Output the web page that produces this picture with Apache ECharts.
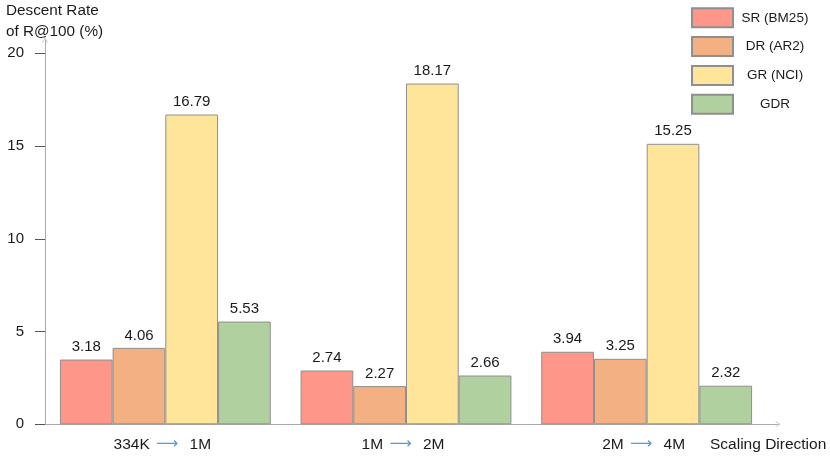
<!DOCTYPE html>
<html>
<head>
<meta charset="utf-8">
<script src="https://cdn.jsdelivr.net/npm/echarts@6/dist/echarts.min.js"></script>
<style>
html,body{margin:0;padding:0;background:#fff;}
#main{width:830px;height:461px;}
</style>
</head>
<body>
<div id="main"></div>
<script>
// Categories (scaling directions)
var categoryFrom = ['334K', '1M', '2M'];
var categoryTo = ['1M', '2M', '4M'];
var seriesNames = ['SR (BM25)', 'DR (AR2)', 'GR (NCI)', 'GDR'];
// Bar heights as drawn in the reference
var srHeights = [3.49, 2.90, 3.91];
var drHeights = [4.12, 2.06, 3.53];
var grHeights = [16.70, 18.37, 15.12];
var gdrHeights = [5.54, 2.63, 2.08];
// Printed value labels
var srLabels = ['3.18', '2.74', '3.94'];
var drLabels = ['4.06', '2.27', '3.25'];
var grLabels = ['16.79', '18.17', '15.25'];
var gdrLabels = ['5.53', '2.66', '2.32'];
// Y axis ticks
var yTicks = [0, 5, 10, 15, 20];

var colors = ['#FE968A', '#F2B083', '#FFE59A', '#B0D09F'];
var FONT = 'Liberation Sans, Arial, Helvetica, sans-serif';

var categories = categoryFrom.map(function (f, i) { return f + '|' + categoryTo[i]; });

function makeSeries(idx, heights, labels) {
  return {
    name: seriesNames[idx],
    type: 'bar',
    xAxisIndex: 0,
    yAxisIndex: 0,
    barGap: '0%',
    barCategoryGap: '12.4%',
    itemStyle: { color: colors[idx], borderColor: '#8f8f8f', borderWidth: 1 },
    label: {
      show: true,
      position: 'top',
      distance: 5,
      fontFamily: FONT,
      fontSize: 15,
      color: '#1a1a1a',
      formatter: function (p) { return labels[p.dataIndex]; }
    },
    data: heights
  };
}

var chart = echarts.init(document.getElementById('main'), null, { renderer: 'canvas' });
var option = {
  animation: false,
  backgroundColor: '#ffffff',
  title: [
    {
      text: 'Descent Rate\nof R@100 (%)',
      left: 1, top: -4.5,
      textStyle: { fontFamily: FONT, fontSize: 15.3, fontWeight: 'normal', color: '#1a1a1a', lineHeight: 21 }
    },
    {
      text: 'Scaling Direction',
      left: 705, top: 432,
      textStyle: { fontFamily: FONT, fontSize: 15.5, fontWeight: 'normal', color: '#1a1a1a' }
    }
  ],
  legend: {
    orient: 'vertical',
    left: 686, top: 2.3,
    itemWidth: 41, itemHeight: 19, itemGap: 7.8,
    icon: 'rect',
    data: seriesNames,
    formatter: function (name) { return '{t|' + name + '}'; },
    textStyle: {
      fontFamily: FONT, fontSize: 13.5, color: '#1a1a1a',
      rich: { t: { width: 74, align: 'center', fontFamily: FONT, fontSize: 13.5, color: '#1a1a1a' } }
    }
  },
  grid: [
    { left: 45, right: 63, top: 53.3, bottom: 36.7 },
    { left: 45, right: 52, top: 40, bottom: 36.7 }
  ],
  xAxis: [
    {
      type: 'category',
      gridIndex: 0,
      data: categories,
      axisLine: { show: false },
      axisTick: { show: false },
      axisLabel: {
        margin: 12,
        padding: [0, 6, 0, 0],
        fontFamily: FONT, fontSize: 15.5, color: '#1a1a1a',
        formatter: function (v) {
          var parts = v.split('|');
          return parts[0] + ' {arr|⟶} ' + parts[1];
        },
        rich: { arr: { color: '#5B9BD5', fontFamily: 'DejaVu Sans', fontSize: 15.5, padding: [0, 7, 0, 2] } }
      }
    },
    {
      type: 'value',
      gridIndex: 1,
      min: 0, max: 1,
      axisLine: {
        show: true, onZero: false,
        lineStyle: { color: '#aaaaaa', width: 1 },
        symbol: ['none', 'path://M0,8 L5,0 L10,8 L9,8 L5,1.6 L1,8 Z'],
        symbolSize: [6, 5]
      },
      axisTick: { show: false },
      axisLabel: { show: false },
      splitLine: { show: false }
    }
  ],
  yAxis: [
    {
      type: 'value',
      gridIndex: 0,
      min: 0, max: 20, interval: 5,
      axisLine: { show: false },
      axisTick: { show: true, inside: false, length: 10, lineStyle: { color: '#555555', width: 1 } },
      axisLabel: {
        margin: 21,
        fontFamily: FONT, fontSize: 15, color: '#1a1a1a',
        formatter: function (v) { return yTicks.indexOf(v) >= 0 ? String(v) : ''; }
      },
      splitLine: { show: false }
    },
    {
      type: 'value',
      gridIndex: 1,
      min: 0, max: 1,
      axisLine: {
        show: true, onZero: false,
        lineStyle: { color: '#aaaaaa', width: 1 },
        symbol: ['none', 'path://M0,8 L5,0 L10,8 L9,8 L5,1.6 L1,8 Z'],
        symbolSize: [6, 5]
      },
      axisTick: { show: false },
      axisLabel: { show: false },
      splitLine: { show: false }
    }
  ],
  series: [
    makeSeries(0, srHeights, srLabels),
    makeSeries(1, drHeights, drLabels),
    makeSeries(2, grHeights, grLabels),
    makeSeries(3, gdrHeights, gdrLabels)
  ]
};
chart.setOption(option);
</script>
</body>
</html>
